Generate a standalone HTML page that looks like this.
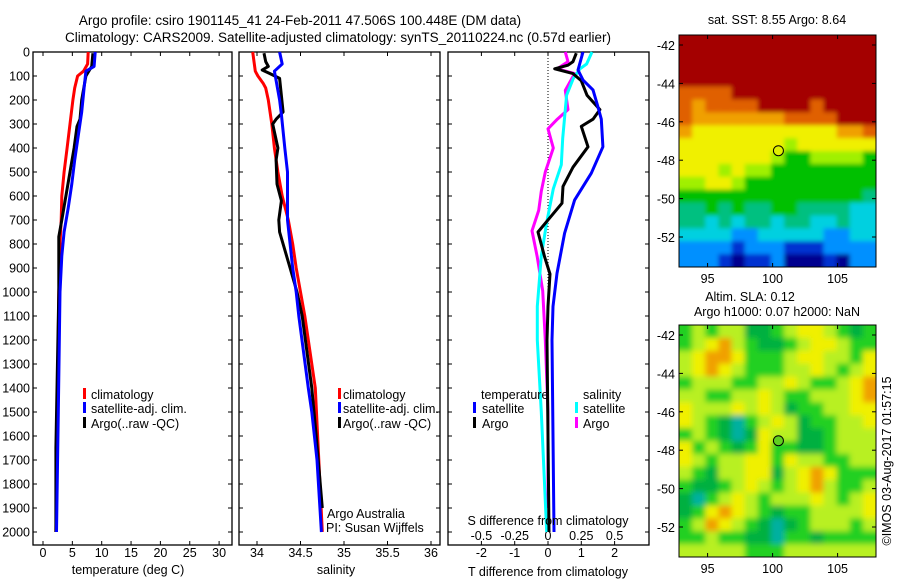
<!DOCTYPE html>
<html><head><meta charset="utf-8"><style>
body{margin:0;background:#fff;}
svg{display:block;font-family:"Liberation Sans",sans-serif;}
text{font-size:12.5px;fill:#000;}
</style></head><body>
<svg id="fig" width="900" height="580" viewBox="0 0 900 580">
<defs>
<clipPath id="clipM1"><rect x="679" y="35" width="197" height="232"/></clipPath>
<clipPath id="clipM2"><rect x="679" y="325" width="197" height="232"/></clipPath>
<filter id="blurSST" x="-10%" y="-10%" width="120%" height="120%"><feGaussianBlur stdDeviation="2"/></filter>
<filter id="blurSLA" x="-10%" y="-10%" width="120%" height="120%"><feGaussianBlur stdDeviation="3"/></filter>
</defs>
<text x="300" y="25" text-anchor="middle" style="font-size:13.5px">Argo profile: csiro 1901145_41 24-Feb-2011 47.506S 100.448E (DM data)</text>
<text x="338" y="42" text-anchor="middle" style="font-size:13.5px">Climatology: CARS2009. Satellite-adjusted climatology: synTS_20110224.nc (0.57d earlier)</text>
<g id="p1"></g>
<g id="p2"></g>
<g id="p3"></g>
<g id="m1"></g>
<g id="m2"></g>
<text x="777" y="24" text-anchor="middle">sat. SST: 8.55 Argo: 8.64</text>
<text x="750" y="301" text-anchor="middle">Altim. SLA: 0.12</text>
<text x="777" y="316" text-anchor="middle">Argo h1000: 0.07 h2000: NaN</text>
<text transform="translate(891,461) rotate(-90)" text-anchor="middle">©IMOS 03-Aug-2017 01:57:15</text>
</svg>
<script>
// ---------- data ----------
const tClimD=[0,50,80,100,150,200,300,400,500,600,700,800,900,1000,1400,2000];
const tClim=[7.7,7.6,6.9,5.9,5.4,5.1,4.6,4.1,3.6,3.2,3.1,2.9,2.9,2.7,2.5,2.2];
const tSatD=[0,60,80,150,250,350,450,550,650,750,850,1000,1500,2000];
const tSat=[8.9,8.7,7.3,7.0,6.6,6.0,5.4,4.9,4.3,3.6,3.2,2.9,2.6,2.3];
const tArgoD=[5,60,100,200,280,310,400,500,600,700,770,850,1000,1650,2000];
const tArgo=[8.5,8.3,7.3,6.6,6.3,5.8,5.3,4.6,3.9,3.2,2.7,2.7,2.7,2.2,2.2];
const sClimD=[0,80,100,130,150,200,300,400,500,600,700,800,900,1000,1100,1400,2000];
const sClim=[33.95,33.98,34.01,34.07,34.1,34.13,34.17,34.2,34.24,34.29,34.36,34.41,34.45,34.5,34.55,34.67,34.75];
const sSatD=[0,50,80,100,200,260,400,500,700,800,900,1000,1100,1400,1500,1700,2000];
const sSat=[34.26,34.29,34.2,34.21,34.26,34.28,34.32,34.35,34.35,34.38,34.41,34.45,34.48,34.59,34.63,34.69,34.74];
const sArgoD=[5,40,60,75,90,110,250,280,300,400,450,550,620,700,750,800,900,1000,1100,1400,1600,1900];
const sArgo=[34.08,34.1,34.13,34.06,34.15,34.26,34.3,34.22,34.18,34.24,34.22,34.23,34.28,34.25,34.26,34.3,34.38,34.46,34.52,34.63,34.68,34.75];
const dTSatD=[0,75,117,158,229,280,395,505,617,755,922,1060,1200,2000];
const dTSat=[1.05,0.9,1.05,1.35,1.5,1.6,1.65,1.3,0.8,0.5,0.27,0.15,0.12,0.18];
const dTArgoD=[5,40,55,70,90,120,180,240,280,310,395,480,560,630,690,750,855,925,1060,1200,2000];
const dTArgo=[0.85,0.75,0.6,0.2,0.75,1.0,1.17,1.56,1.35,1.0,1.2,0.75,0.45,0.42,0.06,-0.3,-0.1,0.06,0.0,-0.03,0.03];
const dSSatD=[0,50,70,110,180,360,470,570,710,850,1060,1200,1500,2000];
const dSSat=[0.33,0.29,0.24,0.19,0.14,0.11,0.1,0.04,-0.01,-0.05,-0.08,-0.08,-0.05,-0.01];
const dSArgoD=[0,40,70,90,160,240,280,320,400,500,580,660,745,855,995,1200,1500,1900];
const dSArgo=[0.13,0.15,0.07,0.2,0.13,0.15,0.07,0,0.04,-0.02,-0.05,-0.07,-0.12,-0.08,-0.04,-0.02,0,0];
const depthTicks=[0,100,200,300,400,500,600,700,800,900,1000,1100,1200,1300,1400,1500,1600,1700,1800,1900,2000];
const tTicks=[0,5,10,15,20,25,30];
const sTicks=[34,34.5,35,35.5,36];
const sTickLabels=["34","34.5","35","35.5","36"];
const dTTicks=[-2,-1,0,1,2];
const dSTicks=[-0.5,-0.25,0,0.25,0.5];
const dSTickLabels=["-0.5","-0.25","0","0.25","0.5"];
const lonTicks=[95,100,105];
const latTicks=[-42,-44,-46,-48,-50,-52];
const floatLon=100.448, floatLat=-47.506;
const sstGrid=[
"AAAAAAAAAAAAAAA","AAAAAAAAAAAAAAA","AAAAAAAAAAAAAAA","AAAAAAAAAAAAAAA",
"9999AAAAAAAAAAA","989999AAAA9AAAA","988888889999AAA","877777777777889",
"777777776777777","777777765566665","777676655555555","667765555555555",
"555555555555554","445454455444433","443434434433433","333322333332233",
"222212221112222","222101120001022"];
const slaGrid=[
"343442234554323","345643223455433","456653334554435","456543334454345",
"344433445433456","443344543344456","544454542334455","543213454233445",
"343212544223444","534323533223444","543445535443344","432445524565333",
"322345434564334","213454344454345","235654323344445","346543212344434",
"334332213323333","444443334444444"];
const sstColors={"0":"#00008f","1":"#0030d0","2":"#0090ff","3":"#00d0e0","4":"#00c080","5":"#00c000","6":"#a0f000","7":"#f0f000","8":"#f0a000","9":"#e06000","A":"#a40000"};
const slaColors={"0":"#00e0e0","1":"#00b0a0","2":"#00b040","3":"#20d020","4":"#b8f020","5":"#f0f000","6":"#f0a000"};

// ---------- helpers ----------
const NS="http://www.w3.org/2000/svg";
function mk(parent,tag,attrs){const e=document.createElementNS(NS,tag);for(const k in attrs)e.setAttribute(k,attrs[k]);parent.appendChild(e);return e;}
const yD=d=>52+d*0.24;
const PB=545;
function frame(g,x0,x1,y0,y1){
  const r=mk(g,'rect',{x:x0,y:y0,width:x1-x0,height:y1-y0,fill:'none',stroke:'#000','stroke-width':1.3});
  
  
}
function line(g,xs,ds,xf,color,name,w){
  const pts=xs.map((v,i)=>xf(v).toFixed(1)+','+yD(ds[i]).toFixed(1)).join(' ');
  const p=mk(g,'polyline',{points:pts,fill:'none',stroke:color,'stroke-width':w||3,'stroke-linejoin':'round'});
  
  
}
function txt(g,x,y,s,anchor,name,size){
  const t=mk(g,'text',{x:x,y:y,'text-anchor':anchor||'start'});
  if(size)t.style.fontSize=size+'px';
  t.textContent=s;
  
  
  return t;
}
function depthTickMarks(g,x0,x1,labels){
  depthTicks.forEach(d=>{
    const y=yD(d);
    mk(g,'line',{x1:x0,x2:x0+4,y1:y,y2:y,stroke:'#000'});
    mk(g,'line',{x1:x1,x2:x1-4,y1:y,y2:y,stroke:'#000'});
    if(labels) txt(g,x0-3,y+4.5,String(d),'end','depth-tick-label');
  });
}
function xTickMarks(g,ticks,labels,xf,labY){
  ticks.forEach((v,i)=>{
    const x=xf(v);
    mk(g,'line',{x1:x,x2:x,y1:52,y2:56,stroke:'#000'});
    mk(g,'line',{x1:x,x2:x,y1:PB,y2:PB-4,stroke:'#000'});
    txt(g,x,labY,labels[i],'middle','x-tick-label');
  });
}
function legendBar(g,x,y,color,name){
  const r=mk(g,'rect',{x:x,y:y-11,width:3,height:11,fill:color});
  
  
}

// ---------- panel 1: temperature ----------
const p1=document.getElementById('p1');
const xT=v=>43+v*5.87;
frame(p1,33,232,52,PB);
depthTickMarks(p1,33,232,true);
xTickMarks(p1,tTicks,tTicks.map(String),xT,557);
line(p1,tClim,tClimD,xT,'#ff0000','temperature-climatology-line');
line(p1,tArgo,tArgoD,xT,'#000000','temperature-argo-line');
line(p1,tSat,tSatD,xT,'#0000ff','temperature-satellite-line');
legendBar(p1,83,399,'#ff0000','legend-climatology-swatch');txt(p1,91,399,'climatology','start','legend-climatology');
legendBar(p1,83,413,'#0000ff','legend-satellite-swatch');txt(p1,91,413,'satellite-adj. clim.','start','legend-satellite');
legendBar(p1,83,428,'#000','legend-argo-swatch');txt(p1,91,428,'Argo(..raw -QC)','start','legend-argo');
txt(p1,128,574,'temperature (deg C)','middle','temperature-x-axis-title');

// ---------- panel 2: salinity ----------
const p2=document.getElementById('p2');
const xS=v=>257+(v-34)*87;
frame(p2,239,440,52,PB);
depthTickMarks(p2,239,440,false);
xTickMarks(p2,sTicks,sTickLabels,xS,557);
line(p2,sClim,sClimD,xS,'#ff0000','salinity-climatology-line');
line(p2,sArgo,sArgoD,xS,'#000000','salinity-argo-line');
line(p2,sSat,sSatD,xS,'#0000ff','salinity-satellite-line');
legendBar(p2,338,399,'#ff0000','legend2-climatology-swatch');txt(p2,343,399,'climatology','start','legend2-climatology');
legendBar(p2,338,413,'#0000ff','legend2-satellite-swatch');txt(p2,343,413,'satellite-adj. clim.','start','legend2-satellite');
legendBar(p2,338,428,'#000','legend2-argo-swatch');txt(p2,343,428,'Argo(..raw -QC)','start','legend2-argo');
txt(p2,327,518,'Argo Australia','start','argo-australia-label');
txt(p2,326,532,'PI: Susan Wijffels','start','pi-label');
txt(p2,336,574,'salinity','middle','salinity-x-axis-title');

// ---------- panel 3: differences ----------
const p3=document.getElementById('p3');
const xDT=v=>548+v*33.3;
const xDS=v=>548+v*133.2;
frame(p3,448,649,52,PB);
depthTickMarks(p3,448,649,false);
xTickMarks(p3,dTTicks,dTTicks.map(String),xDT,557);
dSTicks.forEach((v,i)=>txt(p3,xDS(v),540,dSTickLabels[i],'middle','s-tick-label'));
const zl=mk(p3,'line',{x1:548,x2:548,y1:52,y2:400,stroke:'#000','stroke-dasharray':'1,2'});


line(p3,dSArgo,dSArgoD,xDS,'#ff00ff','s-argo-diff-line');
line(p3,dSSat,dSSatD,xDS,'#00ffff','s-satellite-diff-line');
line(p3,dTArgo,dTArgoD,xDT,'#000000','t-argo-diff-line');
line(p3,dTSat,dTSatD,xDT,'#0000ff','t-satellite-diff-line');
txt(p3,481,399,'temperature','start','legend3-temperature-heading');
legendBar(p3,473,413,'#0000ff','legend3-t-satellite-swatch');txt(p3,482,413,'satellite','start','legend3-t-satellite');
legendBar(p3,473,428,'#000','legend3-t-argo-swatch');txt(p3,482,428,'Argo','start','legend3-t-argo');
txt(p3,583,399,'salinity','start','legend3-salinity-heading');
legendBar(p3,575,413,'#00ffff','legend3-s-satellite-swatch');txt(p3,583,413,'satellite','start','legend3-s-satellite');
legendBar(p3,575,428,'#ff00ff','legend3-s-argo-swatch');txt(p3,583,428,'Argo','start','legend3-s-argo');
txt(p3,548,525,'S difference from climatology','middle','s-axis-title');
txt(p3,548,576,'T difference from climatology','middle','t-axis-title');

// ---------- maps ----------
function drawMap(gid,grid,colors,y0,y1,dotFill,prefix,clipId,filterId){
  const g=document.getElementById(gid);
  const x0=679,x1=876;
  const lonF=lon=>x0+(lon-92.8)*13.0;
  const latF=lat=>(y0+10)+(-42-lat)*19.2;
  const rows=grid.length, cols=grid[0].length;
  const cw=(x1-x0)/cols, ch=(y1-y0)/rows;
  const clipG=mk(g,'g',{'clip-path':'url(#'+clipId+')'});
  const img=mk(clipG,'g',{filter:'url(#'+filterId+')'});
  const pad=20;
  grid.forEach((row,r)=>{
    for(let c=0;c<cols;c++){
      let x=x0+c*cw, y=y0+r*ch, w=cw+0.6, h=ch+0.6;
      if(c===0){x-=pad;w+=pad;} if(c===cols-1){w+=pad;}
      if(r===0){y-=pad;h+=pad;} if(r===rows-1){h+=pad;}
      const cell=mk(img,'rect',{x:x.toFixed(2),y:y.toFixed(2),width:w.toFixed(2),height:h.toFixed(2),fill:colors[row[c]]});
      
      
    }
  });
  const fr=mk(g,'rect',{x:x0,y:y0,width:x1-x0,height:y1-y0,fill:'none',stroke:'#000','stroke-width':1});
  
  
  lonTicks.forEach(l=>{
    const x=lonF(l);
    mk(g,'line',{x1:x,x2:x,y1:y0,y2:y0+4,stroke:'#000'});
    mk(g,'line',{x1:x,x2:x,y1:y1,y2:y1-4,stroke:'#000'});
    txt(g,x,y1+16,String(l),'middle',prefix+'-lon-label');
  });
  latTicks.forEach(l=>{
    const y=latF(l);
    mk(g,'line',{x1:x0,x2:x0+4,y1:y,y2:y,stroke:'#000'});
    mk(g,'line',{x1:x1,x2:x1-4,y1:y,y2:y,stroke:'#000'});
    txt(g,x0-4,y+5,String(l),'end',prefix+'-lat-label');
  });
  const dot=mk(g,'circle',{cx:lonF(floatLon),cy:latF(floatLat),r:5,fill:dotFill,stroke:'#000','stroke-width':1});
  
  
}
drawMap('m1',sstGrid,sstColors,35,267,'#e0f000','sst-map','clipM1','blurSST');
drawMap('m2',slaGrid,slaColors,325,557,'#60d020','sla-map','clipM2','blurSLA');
</script>
</body></html>
